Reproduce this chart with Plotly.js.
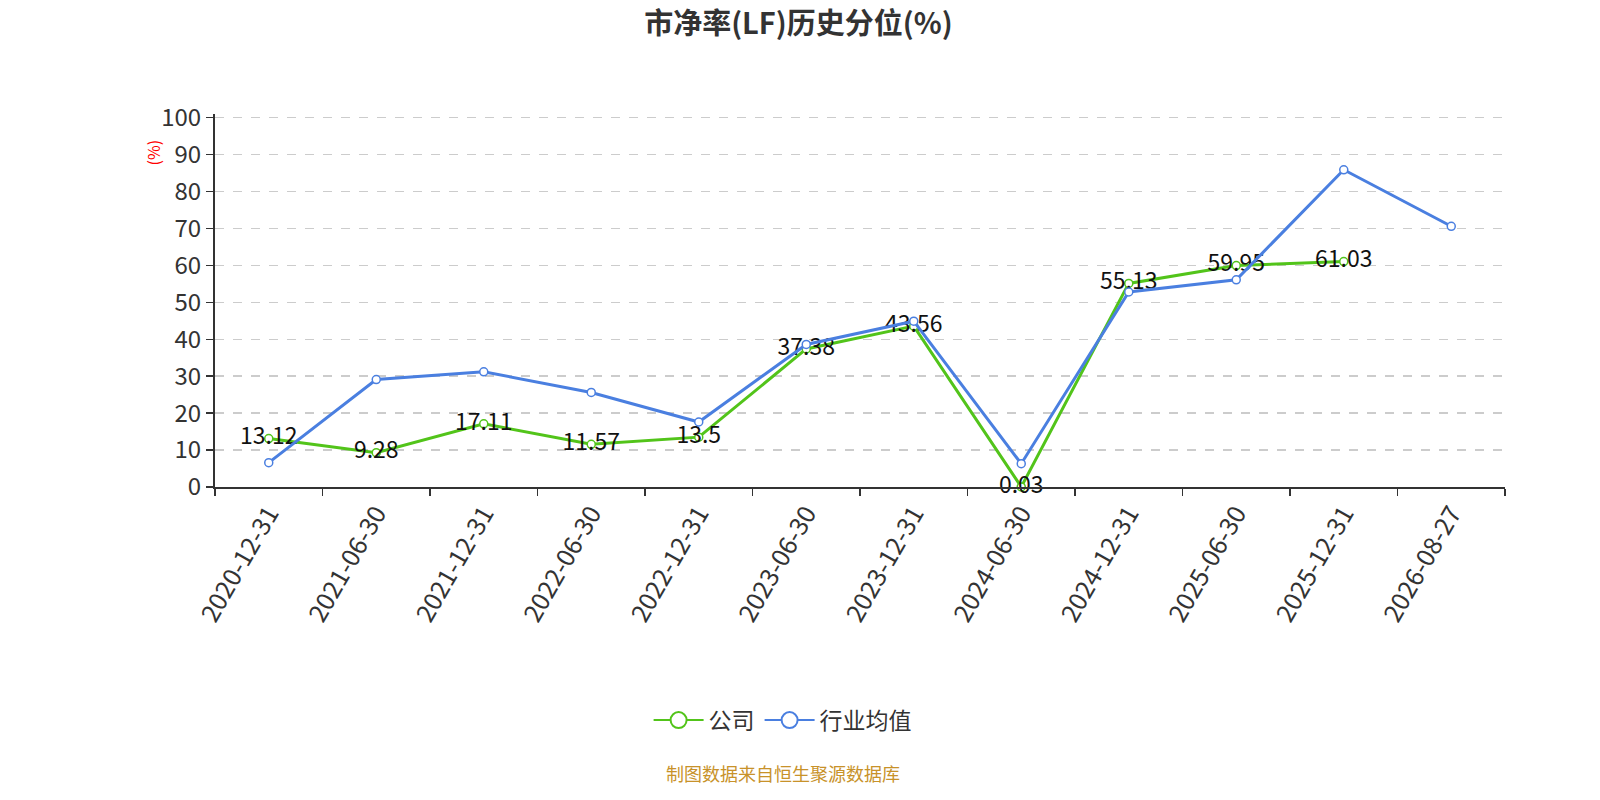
<!DOCTYPE html>
<html>
<head>
<meta charset="utf-8">
<script src="https://cdn.plot.ly/plotly-3.0.1.min.js"></script>
<style>
  html, body { margin: 0; padding: 0; background: #fff; }
  #chart { width: 1600px; height: 800px; }
</style>
</head>
<body>
<div id="chart"></div>
<script>
var dates = ['2020-12-31', '2021-06-30', '2021-12-31', '2022-06-30', '2022-12-31', '2023-06-30',
             '2023-12-31', '2024-06-30', '2024-12-31', '2025-06-30', '2025-12-31', '2026-08-27'];
var company = [13.12, 9.28, 17.11, 11.57, 13.5, 37.38, 43.56, 0.03, 55.13, 59.95, 61.03, null];
var industry = [6.6, 29.1, 31.2, 25.6, 17.6, 38.6, 44.9, 6.3, 52.8, 56.1, 85.9, 70.6];
var yTicks = [0, 10, 20, 30, 40, 50, 60, 70, 80, 90, 100];

var font = '"Microsoft YaHei", "Noto Sans CJK SC", "Noto Sans", sans-serif';
var green = '#52c41a';
var blue = '#4a7fe0';

var labels = company.map(function (v) { return v === null ? '' : String(v); });

var trace1 =
{
    x: dates,
    y: company,
    name: '公司',
    type: 'scatter',
    mode: 'lines+markers+text',
    text: labels,
    textposition: 'middle center',
    textfont: {family: font, size: 23, color: '#111'},
    line: {color: green, width: 3},
    marker: {symbol: 'circle', size: 8, color: '#fff', line: {color: green, width: 1.5}},
    cliponaxis: false,
    showlegend: false,
    hoverinfo: 'none'
};
var trace2 =
{
    x: dates,
    y: industry,
    name: '行业均值',
    type: 'scatter',
    mode: 'lines+markers',
    line: {color: blue, width: 3},
    marker: {symbol: 'circle', size: 8, color: '#fff', line: {color: blue, width: 1.5}},
    cliponaxis: false,
    showlegend: false,
    hoverinfo: 'none'
};
// legend-only entries with bigger open circles, like the original legend
function legendEntry(name, color)
{
    return {
        x: [dates[0]],
        y: [null],
        name: name,
        type: 'scatter',
        mode: 'lines+markers',
        line: {color: color, width: 2},
        marker: {symbol: 'circle', size: 16, color: '#fff', line: {color: color, width: 2}},
        hoverinfo: 'none'
    };
}

var layout =
{
    width: 1600,
    height: 800,
    paper_bgcolor: '#fff',
    plot_bgcolor: '#fff',
    showlegend: true,
    title: {
        text: '<b>市净率(LF)历史分位(%)</b>',
        x: 0.499, xanchor: 'center',
        y: 0.97, yanchor: 'middle',
        font: {family: font, size: 29, color: '#333'}
    },
    // top grid line only shows when 100 sits a little inside the range
    margin: {l: 215, r: 95, t: 114, b: 313},
    xaxis: {
        type: 'category',
        range: [-0.5, 11.5],
        tickson: 'boundaries',
        ticks: 'outside',
        ticklen: 7,
        tickcolor: '#333',
        tickwidth: 1.5,
        showline: true,
        linecolor: '#333',
        linewidth: 2,
        showgrid: false,
        tickangle: -60,
        tickfont: {family: font, size: 25, color: '#333'},
        fixedrange: true
    },
    yaxis: {
        range: [0, 101],
        tickvals: yTicks,
        ticks: 'outside',
        ticklen: 7,
        tickcolor: '#333',
        tickwidth: 1.5,
        showline: true,
        linecolor: '#333',
        linewidth: 2,
        showgrid: true,
        gridcolor: '#cccccc',
        griddash: 'dash',
        gridwidth: 1.5,
        zeroline: false,
        tickfont: {family: font, size: 24, color: '#333'},
        fixedrange: true
    },
    legend: {
        orientation: 'h',
        x: 0.44, xanchor: 'center',
        y: -0.625, yanchor: 'middle',
        font: {family: font, size: 23, color: '#333'},
        itemwidth: 50
    },
    annotations: [
        {
            text: '(%)',
            xref: 'paper', yref: 'paper',
            x: -0.048, y: 0.897,
            xanchor: 'center', yanchor: 'middle',
            textangle: -90,
            showarrow: false,
            font: {family: font, size: 16, color: '#ff0000'}
        },
        {
            text: '制图数据来自恒生聚源数据库',
            xref: 'paper', yref: 'paper',
            x: 0.44, y: -0.767,
            xanchor: 'center', yanchor: 'middle',
            showarrow: false,
            font: {family: font, size: 18, color: '#c8922a'}
        }
    ]
};

Plotly.newPlot('chart', [trace1, trace2, legendEntry('公司', green), legendEntry('行业均值', blue)],
    layout, {displayModeBar: false, staticPlot: true});
</script>
</body>
</html>
